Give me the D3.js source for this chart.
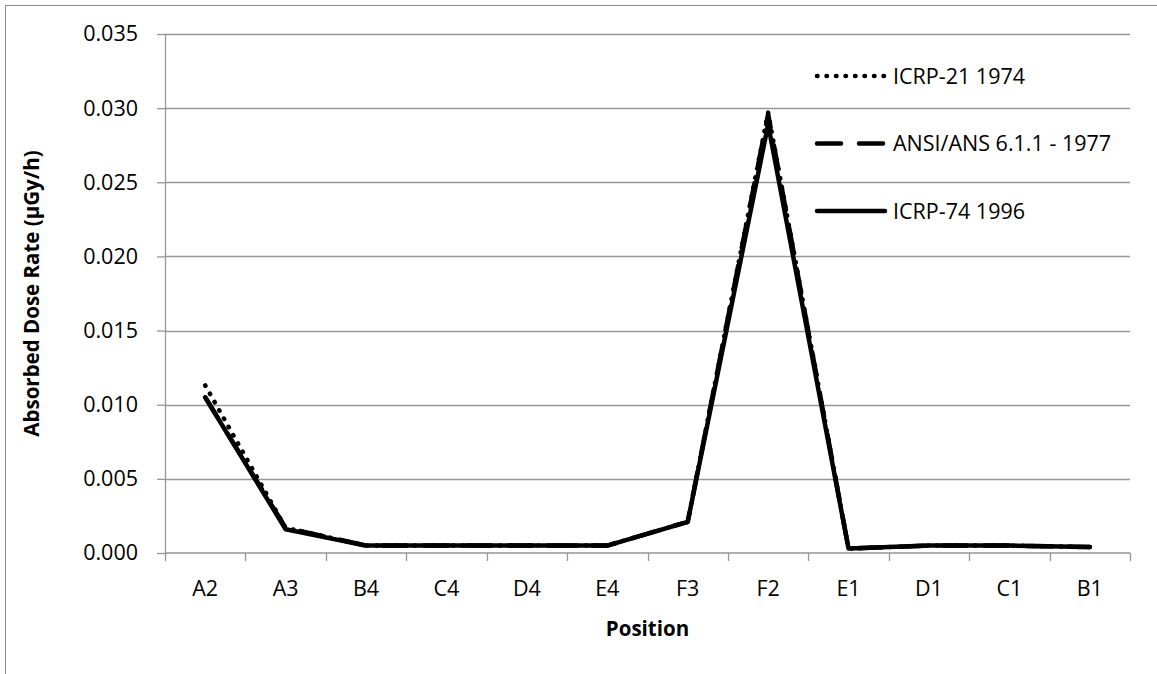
<!DOCTYPE html>
<html>
<head>
<meta charset="utf-8">
<script src="https://cdn.jsdelivr.net/npm/d3@7"></script>
<style>
  body { margin: 0; background: #fff; }
  text { font-family: "Open Sans", "Noto Sans", sans-serif; }
</style>
</head>
<body>
<script>
// positions along the x axis
var positions = ["A2", "A3", "B4", "C4", "D4", "E4", "F3", "F2", "E1", "D1", "C1", "B1"];

// absorbed dose rate (µGy/h) for each series
var icrp21 = [0.0113, 0.0017, 0.0005, 0.0005, 0.0005, 0.0005, 0.0021, 0.0297, 0.0003, 0.0005, 0.0005, 0.0004];
var ansi   = [0.0105, 0.0017, 0.0005, 0.0005, 0.0005, 0.0005, 0.0021, 0.0296, 0.0003, 0.0005, 0.0005, 0.0004];
var icrp74 = [0.0105, 0.0016, 0.0005, 0.0005, 0.0005, 0.0005, 0.0021, 0.0289, 0.0003, 0.0005, 0.0005, 0.0004];

var seriesNames = ["ICRP-21 1974", "ANSI/ANS 6.1.1 - 1977", "ICRP-74 1996"];
var yTicks = [0, 0.005, 0.010, 0.015, 0.020, 0.025, 0.030, 0.035];

var W = 1157, H = 674,
    margin = {top: 34, right: 27, bottom: 121, left: 165},
    width = W - margin.left - margin.right,
    height = H - margin.top - margin.bottom,
    fontSize = "21.5px",
    titleSize = "20.5px";

var svg = d3.select("body").append("svg")
    .attr("width", W)
    .attr("height", H);

// outer chart frame (runs off the right and bottom of the picture)
svg.append("rect")
    .attr("x", 5.5).attr("y", 5.5)
    .attr("width", W + 20).attr("height", H + 20)
    .attr("fill", "none")
    .attr("stroke", "#8c8c8c")
    .attr("stroke-width", 1);

var g = svg.append("g")
    .attr("transform", "translate(" + margin.left + "," + margin.top + ")");

var x = d3.scaleBand().domain(positions).range([0, width]);
var y = d3.scaleLinear().domain([0, 0.035]).range([height, 0]);

// horizontal gridlines
g.selectAll(".grid")
    .data(yTicks.slice(1))
    .enter().append("line")
    .attr("class", "grid")
    .attr("x1", 0).attr("x2", width)
    .attr("y1", function(d){ return Math.round(y(d)) + 0.5; })
    .attr("y2", function(d){ return Math.round(y(d)) + 0.5; })
    .attr("stroke", "#969696")
    .attr("stroke-width", 1.3);

// y axis
var yAxis = g.append("g")
    .call(d3.axisLeft(y).tickValues(yTicks).tickFormat(d3.format(".3f")).tickSize(8).tickSizeOuter(0));
yAxis.select(".domain").attr("stroke", "#969696").attr("stroke-width", 1.3);
yAxis.selectAll(".tick line").attr("stroke", "#969696").attr("stroke-width", 1.3);
yAxis.selectAll(".tick text")
    .attr("x", -27)
    .style("font-size", fontSize)
    .attr("fill", "#000");

// x axis: ticks sit on category boundaries
var xAxis = g.append("g")
    .attr("transform", "translate(0," + height + ")");
xAxis.append("line")
    .attr("x1", 0).attr("x2", width)
    .attr("stroke", "#969696").attr("stroke-width", 1.3);
xAxis.selectAll(".xtick")
    .data(positions.concat(["end"]))
    .enter().append("line")
    .attr("class", "xtick")
    .attr("x1", function(d, i){ return Math.round(i * x.step()) + 0.5; })
    .attr("x2", function(d, i){ return Math.round(i * x.step()) + 0.5; })
    .attr("y1", 0).attr("y2", 8)
    .attr("stroke", "#969696").attr("stroke-width", 1.3);
xAxis.selectAll(".xlabel")
    .data(positions)
    .enter().append("text")
    .attr("class", "xlabel")
    .attr("x", function(d){ return x(d) + x.bandwidth() / 2; })
    .attr("y", 43)
    .attr("text-anchor", "middle")
    .style("font-size", fontSize)
    .text(function(d){ return d; });

// axis titles
svg.append("text")
    .attr("x", margin.left + width / 2)
    .attr("y", 636)
    .attr("text-anchor", "middle")
    .style("font-size", titleSize)
    .style("font-weight", "bold")
    .text("Position");

svg.append("text")
    .attr("transform", "translate(32," + (margin.top + height / 2) + ") rotate(-90)")
    .attr("dy", "0.35em")
    .attr("text-anchor", "middle")
    .style("font-size", titleSize)
    .style("font-weight", "bold")
    .text("Absorbed Dose Rate (µGy/h)");

// series lines
var dashes = ["0.5,9", "24,18", null];
var allSeries = [icrp21, ansi, icrp74];

var line = d3.line()
    .x(function(d, i){ return x(positions[i]) + x.bandwidth() / 2; })
    .y(function(d){ return y(d); });

// solid first so the dashed and dotted lines sit on top
[2, 1, 0].forEach(function(k){
  g.append("path")
      .datum(allSeries[k])
      .attr("d", line)
      .attr("fill", "none")
      .attr("stroke", "#000")
      .attr("stroke-width", 4.5)
      .attr("stroke-linecap", "round")
      .attr("stroke-linejoin", "round")
      .attr("stroke-dasharray", dashes[k]);
});

// legend
var legend = svg.selectAll(".legend")
    .data(seriesNames)
    .enter().append("g")
    .attr("class", "legend")
    .attr("transform", function(d, i){ return "translate(815," + (76 + i * 67.5) + ")"; });

legend.append("line")
    .attr("x1", 2).attr("x2", 70)
    .attr("stroke", "#000")
    .attr("stroke-width", 4.5)
    .attr("stroke-linecap", "round")
    .attr("stroke-dasharray", function(d, i){ return dashes[i]; });

legend.append("text")
    .attr("x", 78)
    .attr("dy", "0.35em")
    .style("font-size", fontSize)
    .text(function(d){ return d; });
</script>
</body>
</html>
